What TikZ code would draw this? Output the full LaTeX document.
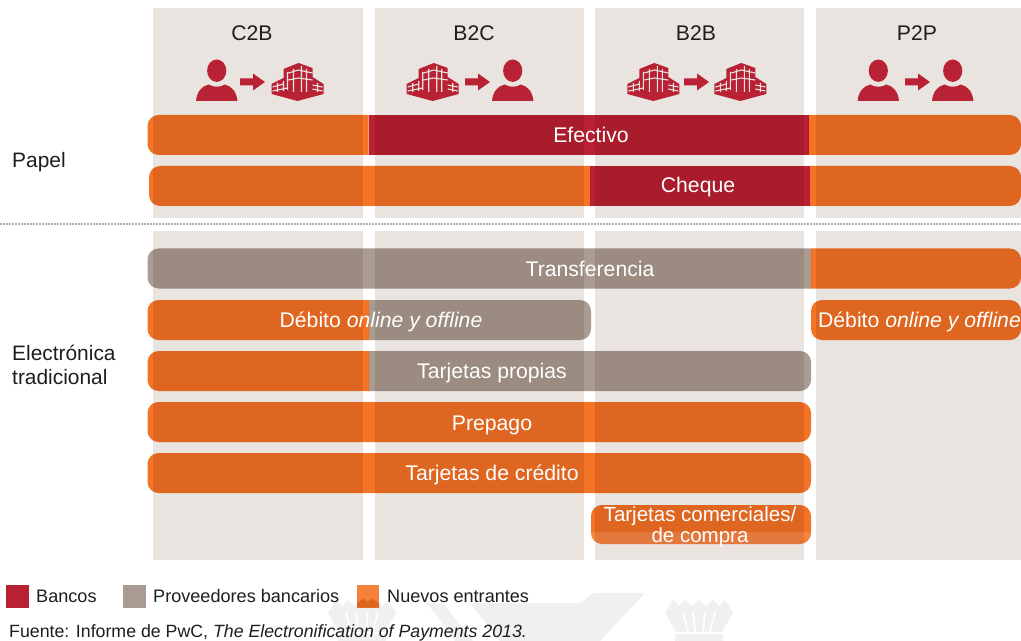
\documentclass[tikz,border=0pt]{standalone}
\usepackage{fontspec}
\setmainfont{Liberation Sans}
\definecolor{panel}{HTML}{E9E4E0}
\definecolor{orng}{HTML}{F47325}
\definecolor{orngdk}{HTML}{DE6420}
\definecolor{redd}{HTML}{BA2033}
\definecolor{gry}{HTML}{AA9C92}
\definecolor{wmark}{HTML}{F0F0F0}
\definecolor{sepdot}{HTML}{B0B0B0}
\definecolor{ink}{HTML}{1E1E1E}
\definecolor{iconred}{HTML}{B92234}
\tikzset{
  mult/.style={blend mode=multiply},
  barlbl/.style={text=white,inner sep=0pt,yshift=-2.6bp,text height=14bp,text depth=4bp,font=\fontsize{21.2bp}{22bp}\selectfont},
  barlblx/.style={text=white,inner sep=0pt,yshift=-2bp,align=center,font=\fontsize{20.5bp}{20.5bp}\selectfont},
  toplbl/.style={text=ink,inner sep=0pt,yshift=-2.6bp,text height=14bp,text depth=4bp,font=\fontsize{21.2bp}{22bp}\selectfont},
  sidelbl/.style={text=ink,inner sep=0pt,yshift=-2.6bp,anchor=west,align=left,text height=14bp,text depth=4bp,font=\fontsize{20.9bp}{24bp}\selectfont},
  leglbl/.style={text=ink,inner sep=0pt,yshift=-2bp,anchor=west,text height=13bp,text depth=4bp,font=\fontsize{18.1bp}{20bp}\selectfont},
  srclbl/.style={leglbl,font=\fontsize{17.75bp}{20bp}\selectfont},
  personicon/.pic={
    \fill[iconred] (0,-11.3) ellipse [x radius=9.6,y radius=11.2];
    \fill[iconred] (-20.7,19) .. controls (-20,10) and (-15,4) .. (-8,2.5)
      .. controls (-4,5.5) and (4,5.5) .. (8,2.5)
      .. controls (15,4) and (20,10) .. (20.7,19) -- cycle;
  },
  arrowicon/.pic={
    \fill[iconred] (0,-3.5) -- (13,-3.5) -- (13,-8.5) -- (25,0) -- (13,8.5) -- (13,3.5) -- (0,3.5) -- cycle;
  },
  buildingicon/.pic={
    \fill[iconred] (-26,2) -- (-14,-4) -- (-14,-13) -- (1,-19) -- (15,-14) -- (15,-5) -- (26,2) -- (26,12) -- (0,19) -- (-26,12) -- cycle;
    \draw[panel,line width=1.1] (-25,5) -- (-14,2) (-25,9) -- (-10,6) (15,3) -- (25,5) (15,7) -- (25,9)
      (-9,-9) -- (1,-12) -- (15,-9) (-9,-2) -- (1,-4) -- (15,-2)
      (-20,1) -- (-20,10) (-14,-1) -- (-14,9) (20,1) -- (20,10)
      (-4,-13) -- (-4,10) (4,-16) -- (4,10) (9,-13) -- (9,10) (-10,-10) -- (-10,8);
  }
}
\newcommand{\segLR}[5]{\fill[mult,#5,rounded corners=11bp] (#1,#3) rectangle (#2,#4);}
\newcommand{\segL}[5]{\fill[mult,#5] (#2,#3) [rounded corners=11bp] -- (#1,#3) -- (#1,#4) [sharp corners] -- (#2,#4) -- cycle;}
\newcommand{\segR}[5]{\fill[mult,#5] (#1,#3) [rounded corners=11bp] -- (#2,#3) -- (#2,#4) [sharp corners] -- (#1,#4) -- cycle;}
\newcommand{\segM}[5]{\fill[mult,#5] (#1,#3) rectangle (#2,#4);}
\newcommand{\crownmark}[1]{%
  \begin{scope}[shift={(#1,0)}]
    \fill[wmark] (-34,613) -- (-26,600) -- (-20,606) -- (-14,600) -- (-7,606) -- (0,600) -- (7,606) -- (14,600) -- (20,606) -- (26,600) -- (34,613)
      -- (24,630) -- (24,641) -- (-24,641) -- (-24,630) -- cycle;
    \draw[white,line width=1.6] (-16,612) -- (-11,632) (-6,612) -- (-4,632) (6,612) -- (4,632) (16,612) -- (11,632);
    \draw[white,line width=1.4] (-24,633) -- (24,633);
  \end{scope}}
\begin{document}
\begin{tikzpicture}[x=1bp,y=-1bp]
\useasboundingbox (0,0) rectangle (1021,641);
\clip (0,0) rectangle (1021,641);
\fill[white] (0,0) rectangle (1021,641);
% watermark
\crownmark{362}
\crownmark{699}
\fill[wmark] (427,603) -- (443,603) -- (473,641) -- (455,641) -- cycle;
\fill[wmark] (470,603) -- (587,603) -- (537,641) -- (500,641) -- cycle;
\fill[wmark] (593,593) -- (645,593) -- (600,641) -- (537,641) -- cycle;
% panels
\foreach \a/\b in {153.3/362.7,374.5/584,594.7/804,815.7/1021}{
  \fill[panel] (\a,8.3) rectangle (\b,218);
  \fill[panel] (\a,231) rectangle (\b,560);
}
% dotted separator
\coordinate (sepL) at (0,224.5);
\coordinate (sepR) at (1021,224.5);
\draw[sepdot,line width=2bp,dash pattern=on 1.5bp off 1.5bp] (sepL) -- (sepR);
% column heads
\node[toplbl] (c2b) at (252,33) {C2B};
\node[toplbl] (b2c) at (474,33) {B2C};
\node[toplbl] (b2b) at (696,33) {B2B};
\node[toplbl] (p2p) at (917,33) {P2P};
% icons
\pic at (216.7,82) {personicon};
\pic at (240,82) {arrowicon};
\pic at (297.5,82) {buildingicon};
\pic at (432.7,82) {buildingicon};
\pic at (465,82) {arrowicon};
\pic at (512.7,82) {personicon};
\pic at (653.3,82) {buildingicon};
\pic at (684,82) {arrowicon};
\pic at (740.3,82) {buildingicon};
\pic at (878.3,82) {personicon};
\pic at (905,82) {arrowicon};
\pic at (952.7,82) {personicon};
% Efectivo
\segL{147.5}{368.7}{115}{155}{orng}
\segM{368.7}{808.7}{115}{155}{redd}
\segR{808.7}{1021}{115}{155}{orng}
\node[barlbl] (efectivo) at (591,135) {Efectivo};
% Cheque
\segL{149}{590}{166}{206}{orng}
\segM{590}{810}{166}{206}{redd}
\segR{810}{1021}{166}{206}{orng}
\node[barlbl] (cheque) at (698,185) {Cheque};
% Transferencia
\segL{147.5}{811}{248.5}{288.5}{gry}
\segR{811}{1021}{248.5}{288.5}{orng}
\node[barlbl] (transf) at (590,269) {Transferencia};
% Debito
\segL{147.5}{369}{300}{340}{orng}
\segR{369}{591}{300}{340}{gry}
\node[barlbl] (debito) at (381,320) {Débito \emph{online y offline}};
\segLR{811}{1021}{300}{340}{orng}
\node[barlbl] (debitop) at (919.5,320) {Débito \emph{online y offline}};
% Tarjetas propias
\segL{147.5}{369}{351}{391}{orng}
\segR{369}{811}{351}{391}{gry}
\node[barlbl] (propias) at (492,371) {Tarjetas propias};
% Prepago
\segLR{147.5}{811}{402}{442}{orng}
\node[barlbl] (prepago) at (492,423) {Prepago};
% Credito
\segLR{147.5}{811}{453}{493}{orng}
\node[barlbl] (credito) at (492,473) {Tarjetas de crédito};
% Comerciales
\segLR{591}{811}{505}{544}{orng}
\begin{scope}
  \clip[rounded corners=11bp] (591,505) rectangle (811,544);
  \fill[white,opacity=.12] (591,532) rectangle (811,544);
\end{scope}
\node[barlblx] (comerc) at (700,524.5) {Tarjetas comerciales/\\de compra};
% side labels
\node[sidelbl] (papel) at (12,160) {Papel};
\node[sidelbl] (electr) at (12,353) {Electrónica};
\node[sidelbl] (tradic) at (12,377) {tradicional};
% legend
\fill[redd] (6,585) rectangle (28.5,607.5);
\fill[gry] (122.5,585) rectangle (146,607.5);
\fill[orng!90!white] (357,585) rectangle (379,607.5);
\fill[orngdk] (357,607.5) -- (357,603) -- (363,598.5) -- (367.5,601.5) -- (372,598.5) -- (379,603) -- (379,607.5) -- cycle;
\node[leglbl] (bancos) at (36,596) {Bancos};
\node[leglbl] (prov) at (153,596) {Proveedores bancarios};
\node[leglbl] (nuevos) at (387,596) {Nuevos entrantes};
\node[srclbl] (fuente) at (9,631) {Fuente: Informe de PwC, \emph{The Electronification of Payments 2013.}};
\end{tikzpicture}
\end{document}
